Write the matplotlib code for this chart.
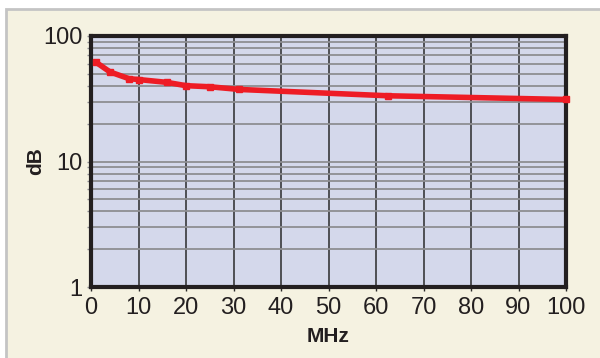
import numpy as np
import matplotlib.pyplot as plt
from matplotlib.patches import Rectangle
from matplotlib.ticker import FixedLocator, NullFormatter

# dados
freq_mhz = [1, 4, 8, 10, 16, 20, 25, 31.25, 62.5, 100]
atten_db = [62.0, 51.7, 45.7, 45.0, 42.7, 40.2, 39.4, 37.5, 33.4, 31.2]

x_ticks = [0, 10, 20, 30, 40, 50, 60, 70, 80, 90, 100]
y_ticks = [1, 10, 100]
y_tick_labels = ["1", "10", "100"]

plt.rcParams["font.family"] = ["Liberation Sans", "DejaVu Sans"]

fig = plt.figure(figsize=(6, 3.58), dpi=100)
fig.patch.set_facecolor("white")

# moldura creme com borda cinza
fig.add_artist(Rectangle((6 / 600, -0.01), 1.0, 1 - 9 / 358 + 0.01,
                         transform=fig.transFigure, facecolor="#F5F2E1",
                         edgecolor="#C4C4C4", linewidth=2.0, zorder=-1))

ax = fig.add_axes([91 / 600, 1 - 287 / 358, 475 / 600, 251 / 358])
ax.set_facecolor("#D4D8EB")

ax.set_yscale("log")
ax.set_xlim(0, 100)
ax.set_ylim(1, 100)

# grade
ax.set_xticks(x_ticks)
ax.set_yticks(y_ticks)
ax.set_yticklabels(y_tick_labels)
minors = [m * 10 ** e for e in range(0, 2) for m in range(2, 10)]
ax.yaxis.set_minor_locator(FixedLocator(minors))
ax.yaxis.set_minor_formatter(NullFormatter())
ax.grid(True, which="major", axis="x", color="#2A2A2A", linewidth=1.1)
ax.grid(True, which="both", axis="y", color="#8E8E92", linewidth=1.3)

ax.tick_params(axis="x", which="major", length=3, width=1, color="#2A2A2A",
               labelsize=17, pad=4, labelcolor="#231F20")
ax.tick_params(axis="y", which="major", length=3, width=1, color="#8E8E92",
               labelsize=17, pad=3, labelcolor="#231F20")
ax.tick_params(axis="y", which="minor", length=3, width=1, color="#8E8E92")
ax.tick_params(axis="x", which="minor", bottom=False)

for s in ax.spines.values():
    s.set_linewidth(3)
    s.set_color("#231F20")

ax.plot(freq_mhz, atten_db, color="#EE1C25", linewidth=4,
        marker="s", markersize=5, solid_capstyle="butt", clip_on=False, zorder=5)

ax.set_xlabel("MHz", fontsize=15, fontweight="bold", color="#231F20", labelpad=6)
ax.set_ylabel("dB", fontsize=15, fontweight="bold", color="#231F20")
ax.yaxis.set_label_coords(-0.097, 0.5)

fig.savefig("out.png", dpi=100)
